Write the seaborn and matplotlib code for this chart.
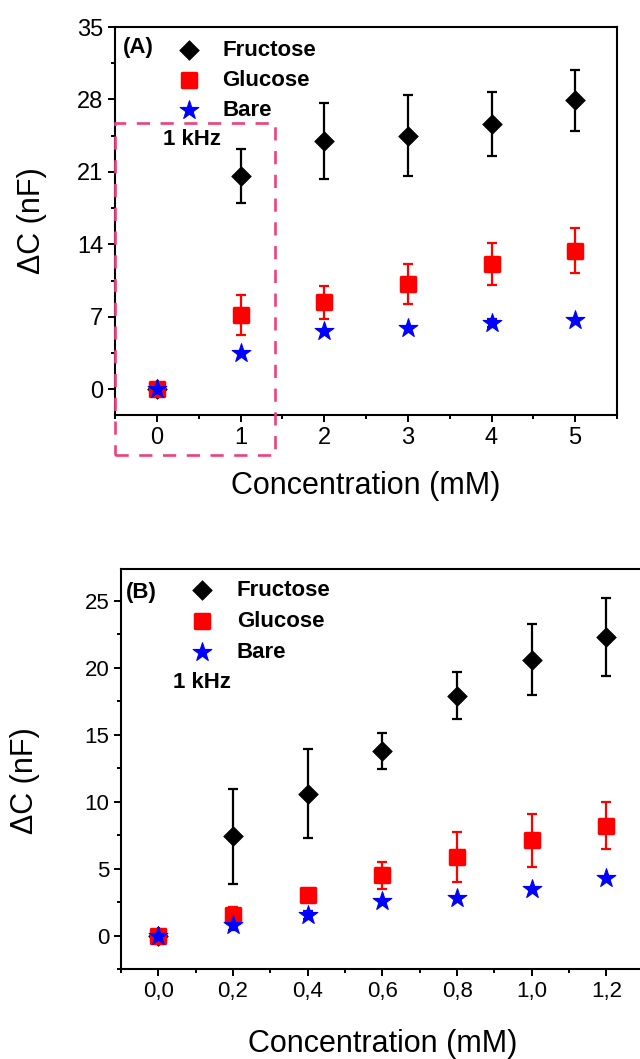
import numpy as np
import pandas as pd
import matplotlib
matplotlib.use("Agg")
import matplotlib.pyplot as plt
import seaborn as sns
from matplotlib.patches import Rectangle
from matplotlib.ticker import AutoMinorLocator

# Panel A data (0-5 mM)
conc_a = [0, 1, 2, 3, 4, 5]
fru_a = [0.0, 20.6, 24.0, 24.5, 25.6, 27.9]
fru_a_err = [0.0, 2.6, 3.65, 3.9, 3.1, 2.9]
glu_a = [0.0, 7.2, 8.4, 10.2, 12.1, 13.4]
glu_a_err = [0.0, 1.95, 1.6, 1.95, 2.05, 2.15]
bare_a = [0.0, 3.5, 5.6, 5.9, 6.4, 6.7]
bare_a_err = [0.0, 0.0, 0.0, 0.0, 0.4, 0.0]

# Panel B data (0-1.2 mM)
conc_b = [0.0, 0.2, 0.4, 0.6, 0.8, 1.0, 1.2]
fru_b = [0.0, 7.4, 10.6, 13.8, 17.9, 20.6, 22.3]
fru_b_err = [0.0, 3.55, 3.3, 1.35, 1.75, 2.65, 2.9]
glu_b = [0.0, 1.5, 3.0, 4.5, 5.85, 7.1, 8.2]
glu_b_err = [0.0, 0.6, 0.4, 1.0, 1.85, 2.0, 1.75]
bare_b = [0.0, 0.8, 1.5, 2.6, 2.8, 3.5, 4.3]
bare_b_err = [0.0, 0.4, 0.3, 0.0, 0.0, 0.0, 0.0]
xtick_b_labels = ["0,0", "0,2", "0,4", "0,6", "0,8", "1,0", "1,2"]

sns.set_style("ticks")
plt.rcParams['font.family'] = ['Liberation Sans', 'DejaVu Sans']
plt.rcParams['text.color'] = 'black'
plt.rcParams['axes.labelcolor'] = 'black'
plt.rcParams['xtick.color'] = 'black'
plt.rcParams['ytick.color'] = 'black'

fig = plt.figure(figsize=(6.4, 10.59), dpi=100)
ax_a = fig.add_axes([0.180, 0.608, 0.784, 0.3665])
ax_b = fig.add_axes([0.189, 0.085, 0.817, 0.378])

series_style = [
    ("Fructose", "black", "D", 100, 0.5),
    ("Glucose", "#ff0000", "s", 90, 2.5),
    ("Bare", "#0000ff", "*", 200, 0.8),
]


def draw_panel(ax, conc, ys, errs):
    for (name, col, mk, sz, elw), y, e in zip(series_style, ys, errs):
        df = pd.DataFrame({"conc": conc, "dc": y})
        if np.any(np.array(e) > 0):
            ax.errorbar(conc, y, yerr=e, fmt="none", ecolor=col,
                        elinewidth=1.6, capsize=3.5, capthick=1.6, zorder=2)
        sns.scatterplot(data=df, x="conc", y="dc", ax=ax, marker=mk, s=sz,
                        color=col, edgecolor=col, linewidth=elw,
                        label=name, zorder=3)
        ax.collections[-1].set_joinstyle("round")
    for sp in ax.spines.values():
        sp.set_linewidth(1.5)
        sp.set_color("black")
    ax.tick_params(which="major", direction="out", length=5, width=1.4,
                   labelsize=17, top=False, right=False)
    ax.tick_params(which="minor", direction="out", length=3, width=1.4,
                   top=False, right=False)
    ax.xaxis.set_minor_locator(AutoMinorLocator(2))
    ax.yaxis.set_minor_locator(AutoMinorLocator(2))
    ax.set_xlabel("Concentration (mM)", fontsize=22)
    ax.set_ylabel("\u0394C (nF)", fontsize=22)


def fix_legend(leg):
    for h in leg.legend_handles:
        try:
            h.set_joinstyle("round")
        except AttributeError:
            pass


# Panel A
draw_panel(ax_a, conc_a, [fru_a, glu_a, bare_a], [fru_a_err, glu_a_err, bare_a_err])
ax_a.set_xlim(-0.5, 5.5)
ax_a.set_ylim(-2.5, 35)
ax_a.set_xticks(conc_a)
ax_a.set_yticks([0, 7, 14, 21, 28, 35])
ax_a.xaxis.set_label_coords(0.5, -0.145)
ax_a.xaxis.label.set_va("top")
ax_a.yaxis.set_label_coords(-0.135, 0.5)
leg_a = ax_a.legend(loc="upper left", bbox_to_anchor=(0.103, 0.99), borderaxespad=0,
                    frameon=False, handlelength=1.2, handletextpad=0.89,
                    labelspacing=0.41, prop={"size": 16, "weight": "bold"})
fix_legend(leg_a)
ax_a.text(0.016, 0.946, "(A)", transform=ax_a.transAxes, fontsize=16,
          fontweight="bold", va="center", ha="left")
ax_a.text(0.096, 0.709, "1 kHz", transform=ax_a.transAxes, fontsize=16,
          fontweight="bold", va="center", ha="left")
ax_a.add_patch(Rectangle((-0.5, -6.4), 1.91, 32.1, fill=False,
                         edgecolor="#f0407a", linewidth=1.9,
                         linestyle=(0, (5, 4)), clip_on=False, zorder=4))

# Panel B
draw_panel(ax_b, conc_b, [fru_b, glu_b, bare_b], [fru_b_err, glu_b_err, bare_b_err])
ax_b.set_xlim(-0.1, 1.3)
ax_b.set_ylim(-2.5, 27.4)
ax_b.set_xticks(conc_b)
ax_b.set_xticklabels(xtick_b_labels)
ax_b.set_yticks([0, 5, 10, 15, 20, 25])
ax_b.tick_params(which="major", labelsize=16)
ax_b.xaxis.set_label_coords(0.5, -0.15)
ax_b.xaxis.label.set_va("top")
ax_b.yaxis.set_label_coords(-0.155, 0.47)
leg_b = ax_b.legend(loc="upper left", bbox_to_anchor=(0.112, 0.995), borderaxespad=0,
                    frameon=False, handlelength=1.2, handletextpad=0.98,
                    labelspacing=0.46, prop={"size": 16, "weight": "bold"})
fix_legend(leg_b)
ax_b.text(0.01, 0.94, "(B)", transform=ax_b.transAxes, fontsize=16,
          fontweight="bold", va="center", ha="left")
ax_b.text(0.099, 0.715, "1 kHz", transform=ax_b.transAxes, fontsize=16,
          fontweight="bold", va="center", ha="left")

plt.savefig("out.png", dpi=100)
